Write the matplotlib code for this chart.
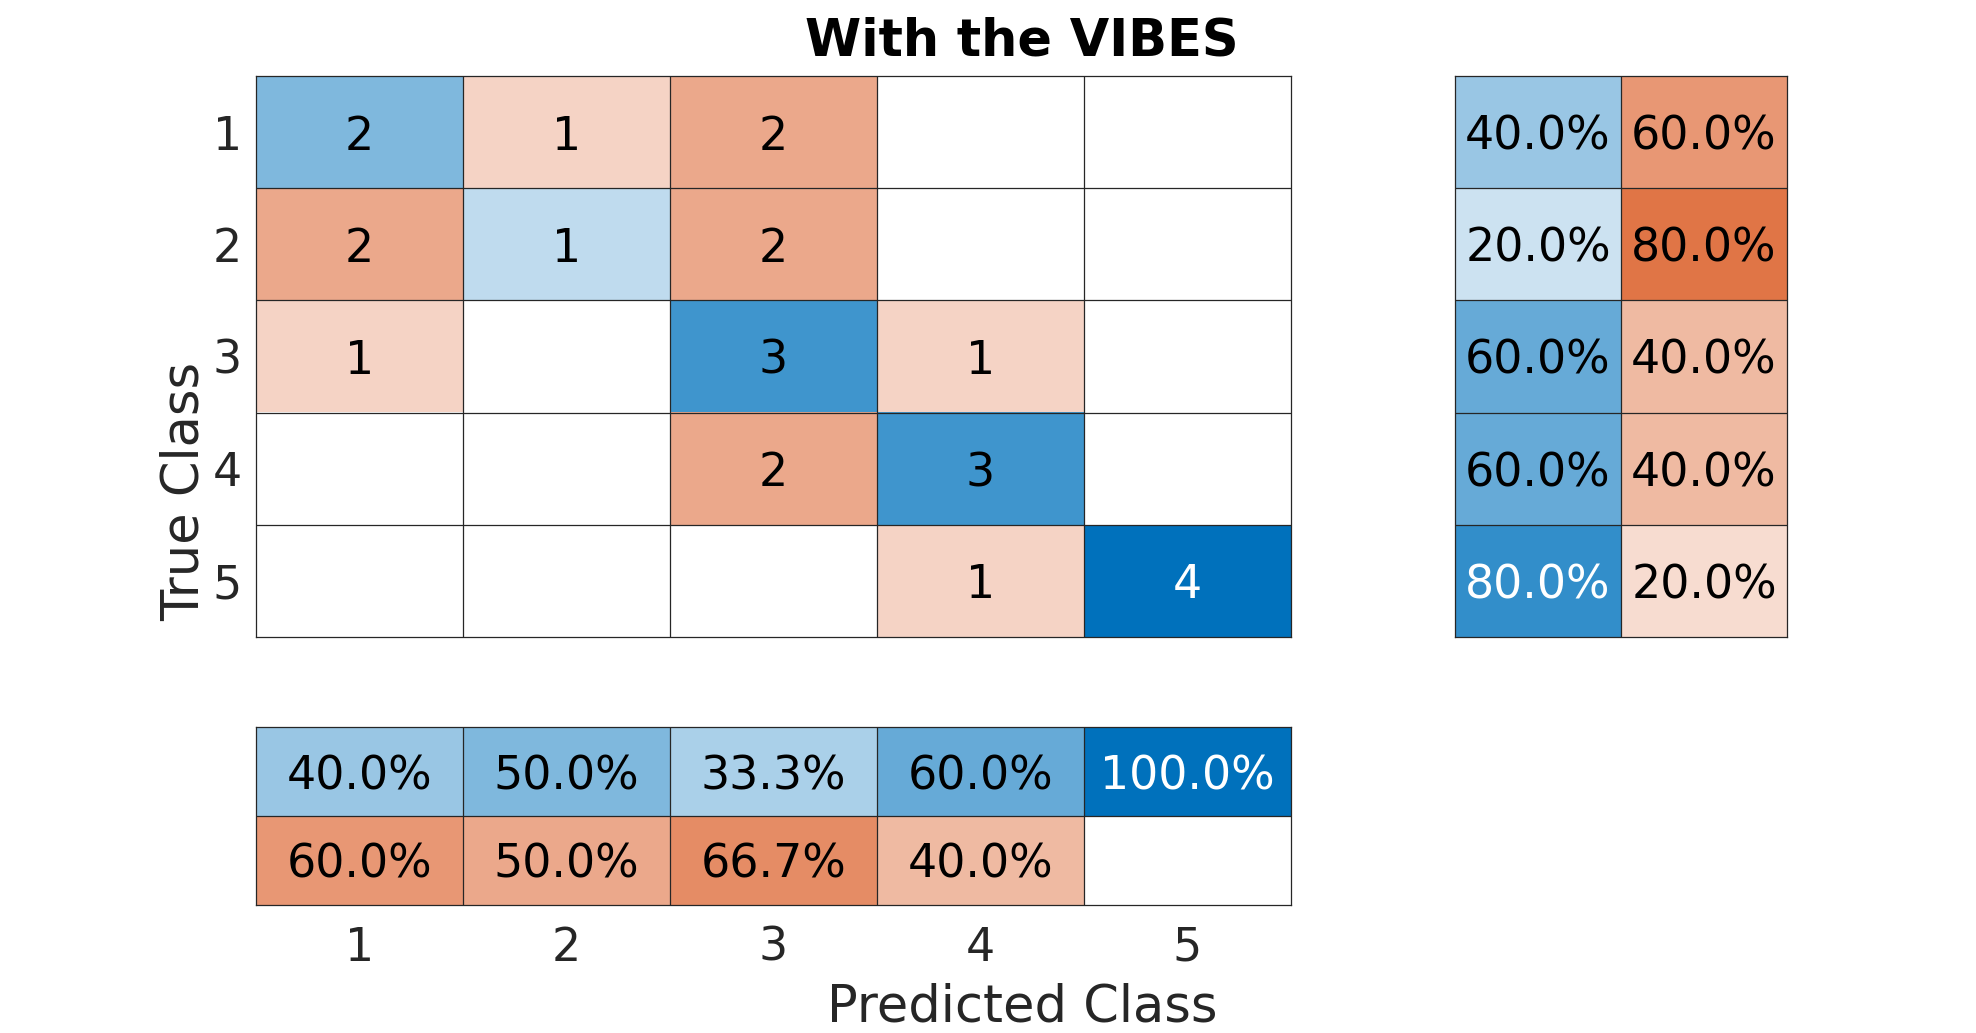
import matplotlib.pyplot as plt
import numpy as np

# ------------------------------------------------------------------
# data

classes = ['1', '2', '3', '4', '5']

counts = np.array([[2, 1, 2, 0, 0],
                   [2, 1, 2, 0, 0],
                   [1, 0, 3, 1, 0],
                   [0, 0, 2, 3, 0],
                   [0, 0, 0, 1, 4]])

# row summary (true class): correct / incorrect, in %
row_correct = [40.0, 20.0, 60.0, 60.0, 80.0]
row_wrong = [60.0, 80.0, 40.0, 40.0, 20.0]

# column summary (predicted class): correct / incorrect, in %
col_correct = [40.0, 50.0, 33.3, 60.0, 100.0]
col_wrong = [60.0, 50.0, 66.7, 40.0, 0.0]

# ------------------------------------------------------------------

BLUE = np.array([0.0, 0.447, 0.741])
RED = np.array([0.850, 0.325, 0.098])
EDGE = '#262626'
FS = 33
LFS = 36.7

W, H = 1976, 1033
fig = plt.figure(figsize=(W / 100, H / 100), dpi=100)


def px_axes(left, top, right, bottom):
    return fig.add_axes([left / W, 1 - bottom / H, (right - left) / W, (bottom - top) / H])


def draw_cells(ax, frac, base, labels):
    # frac: (r, c) intensity 0..1, base: (r, c, 3) full colour
    frac = np.asarray(frac, dtype=float)
    rgb = 1 - frac[..., None] * (1 - base)
    nr, nc = frac.shape
    ax.imshow(rgb, extent=(0.5, nc + 0.5, nr + 0.5, 0.5), aspect='auto',
              interpolation='nearest')
    for i in range(1, nr):
        ax.axhline(i + 0.5, color=EDGE, lw=0.9)
    for j in range(1, nc):
        ax.axvline(j + 0.5, color=EDGE, lw=0.9)
    for i in range(nr):
        for j in range(nc):
            if labels[i][j]:
                lum = rgb[i, j] @ np.array([0.299, 0.587, 0.114])
                c = 'white' if lum < 0.49 else 'black'
                ax.text(j + 1, i + 1, labels[i][j], ha='center', va='center_baseline',
                        fontsize=FS, color=c)
    for s in ax.spines.values():
        s.set_color(EDGE)
        s.set_linewidth(0.9)
    ax.set_xticks([])
    ax.set_yticks([])
    ax.tick_params(length=0, labelsize=FS, labelcolor=EDGE)


# main confusion matrix
ax_main = px_axes(256, 76, 1291, 637)
n = len(classes)
diag = np.eye(n, dtype=bool)
base_main = np.where(diag[..., None], BLUE, RED)
lab_main = [[str(v) if v > 0 else '' for v in row] for row in counts]
draw_cells(ax_main, counts / counts.max(), base_main, lab_main)
ax_main.set_yticks(range(1, n + 1))
ax_main.set_yticklabels(classes)
ax_main.tick_params(axis='y', pad=10)

# row summary
ax_row = px_axes(1455, 76, 1787, 637)
row_vals = np.column_stack([row_correct, row_wrong])
base_row = np.stack([np.tile(BLUE, (n, 1)), np.tile(RED, (n, 1))], axis=1)
lab_row = [['%.1f%%' % v if v > 0 else '' for v in r] for r in row_vals]
draw_cells(ax_row, row_vals / 100, base_row, lab_row)

# column summary
ax_col = px_axes(256, 727, 1291, 905)
col_vals = np.vstack([col_correct, col_wrong])
base_col = np.stack([np.tile(BLUE, (n, 1)), np.tile(RED, (n, 1))], axis=0)
lab_col = [['%.1f%%' % v if v > 0 else '' for v in r] for r in col_vals]
draw_cells(ax_col, col_vals / 100, base_col, lab_col)
ax_col.set_xticks(range(1, n + 1))
ax_col.set_xticklabels(classes)
ax_col.tick_params(axis='x', pad=15)

# titles
fig.text(1022 / W, 1 - 56 / H, 'With the VIBES', ha='center', va='baseline',
         fontsize=LFS, fontweight='bold', color='black')
fig.text(1022 / W, 1 - 1022 / H, 'Predicted Class', ha='center', va='baseline',
         fontsize=LFS, color=EDGE)
fig.text(185 / W, 1 - 491 / H, 'True Class', ha='center', va='center',
         rotation=90, fontsize=LFS, color=EDGE)

fig.savefig('out.png', dpi=100)
